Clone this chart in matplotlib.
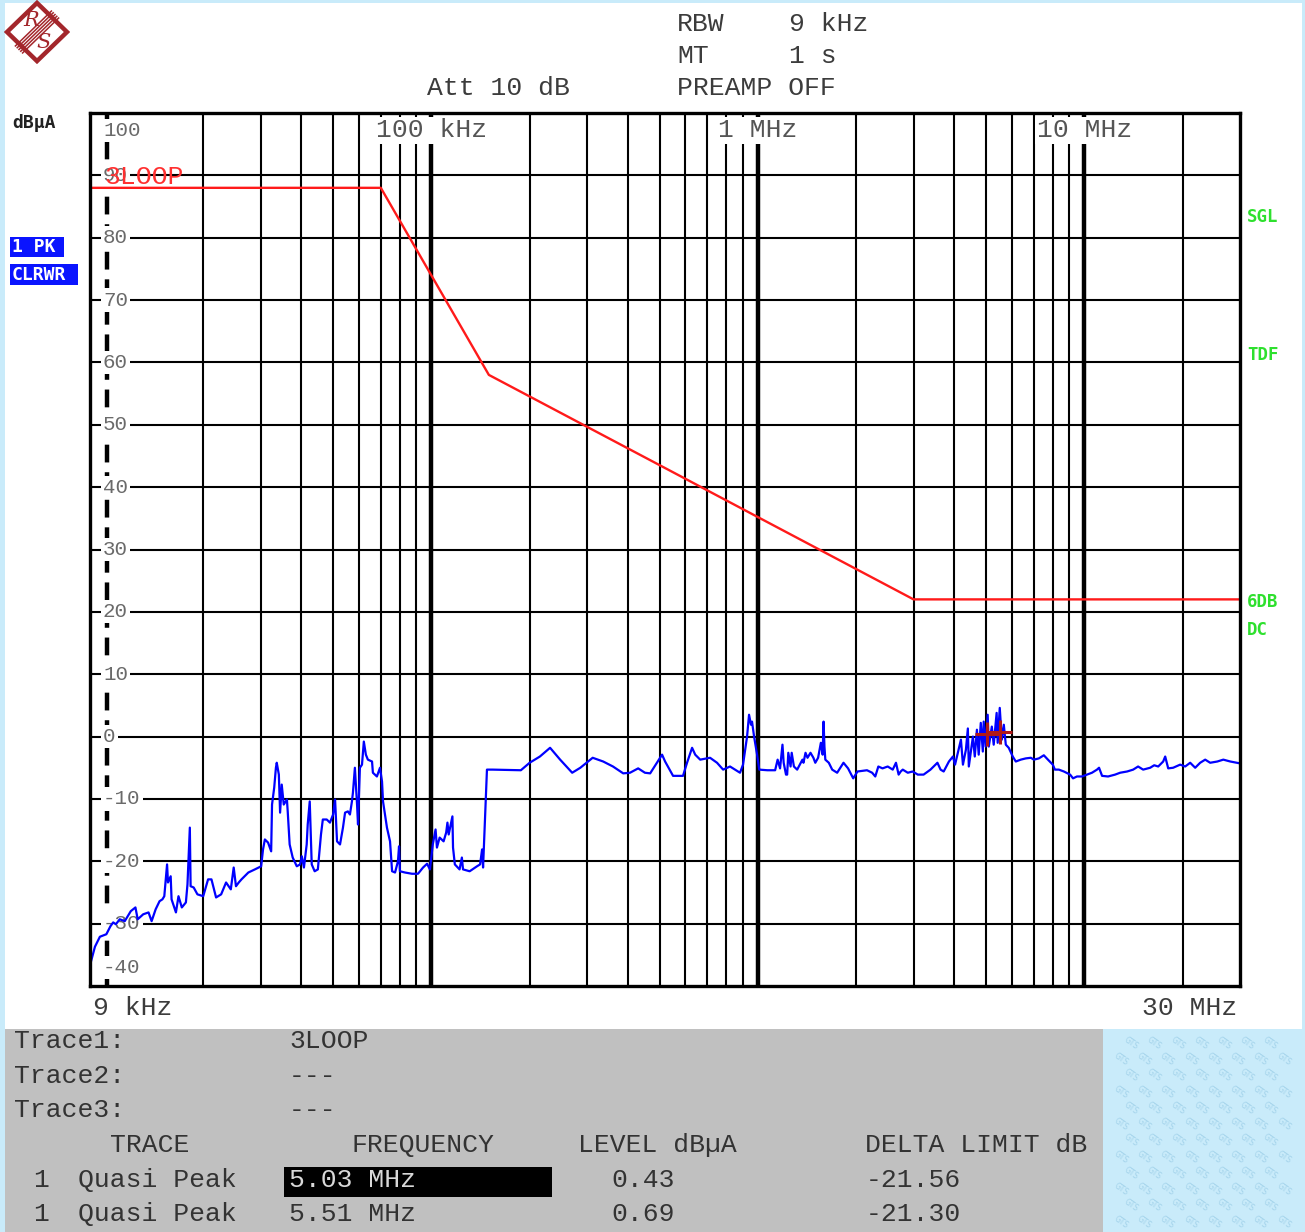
import matplotlib
matplotlib.use("Agg")
import matplotlib.pyplot as plt
from matplotlib.patches import Rectangle, Polygon
import numpy as np

# ---------------- data ----------------
# measured trace (peak detector), frequency in kHz, level in dBuA
trace_freq_khz = [
    9.06, 9.32, 9.65, 10.1, 10.4, 10.6, 10.8, 11.1, 11.5, 12.0, 12.4, 12.6, 13.1, 13.6,
    13.9, 14.3, 14.7, 15.0, 15.2, 15.5, 15.6, 15.9, 16.0, 16.5, 16.8, 17.2, 17.7, 17.9,
    18.2, 18.3, 18.7, 19.2, 20.0, 20.7, 21.2, 21.9, 22.7, 23.5, 24.3, 24.8, 25.2, 25.7,
    26.2, 27.5, 28.8, 30.1, 30.5, 30.9, 31.6, 32.3, 32.5, 33.0, 33.4, 33.6, 34.1, 34.4,
    34.8, 35.3, 36.1, 36.3, 36.8, 37.6, 38.7, 39.6, 40.1, 40.7, 41.5, 41.8, 42.4, 43.0,
    43.9, 44.9, 45.9, 46.5, 47.8, 48.9, 50.0, 50.7, 51.4, 52.5, 53.6, 54.4, 55.5, 56.3,
    57.1, 57.5, 58.3, 59.2, 59.6, 60.4, 61.3, 62.1, 63.0, 63.9, 65.8, 66.2, 68.1, 69.6,
    70.6, 71.1, 73.1, 74.7, 75.8, 77.4, 79.0, 79.6, 80.1, 83.0, 87.2, 91.0, 94.3, 97.0,
    99.0, 101, 103, 104, 106, 109, 111, 112, 113, 116, 116.5, 118, 122, 124, 125, 131,
    138, 141, 143, 144, 146, 148, 154, 188, 200, 215, 231, 248, 270, 286, 312, 336, 360,
    387, 406, 430, 451, 468, 491, 509, 520, 550, 590, 607, 629, 643, 666, 714, 750, 783,
    822, 852, 882, 901, 927, 940, 953, 960, 974, 995, 1010, 1070, 1130, 1150, 1170, 1190,
    1200, 1220, 1230, 1240, 1260, 1270, 1290, 1320, 1370, 1380, 1400, 1420, 1450, 1480,
    1500, 1530, 1560, 1580, 1590, 1600, 1610, 1650, 1690, 1750, 1830, 1890, 1960, 2020,
    2160, 2240, 2290, 2340, 2410, 2500, 2590, 2650, 2700, 2740, 2780, 2880, 2980, 3090,
    3220, 3380, 3550, 3630, 3710, 3850, 3960, 4020, 4100, 4190, 4250, 4340, 4400, 4430,
    4560, 4620, 4690, 4750, 4820, 4890, 4920, 4990, 5060, 5100, 5210, 5280, 5390, 5430,
    5510, 5590, 5670, 5750, 5870, 6040, 6170, 6390, 6620, 6860, 7010, 7260, 7520, 7740,
    8010, 8130, 8360, 8660, 9050, 9240, 9500, 9840, 10200, 10560, 10940, 11100, 11340,
    11830, 12430, 12880, 13530, 14120, 14620, 15150, 15920, 16380, 16850, 17450, 17700,
    18080, 18720, 19670, 20380, 21110, 21870, 22650, 23470, 24310, 25560, 26670, 28020,
    30000,
]
trace_level_dbua = [
    -36.1, -33.7, -32.1, -31.7, -30.4, -29.8, -30.1, -29.3, -29.6, -28.0, -27.4, -29.3, -28.5, -28.2,
    -29.6, -27.7, -26.4, -26.1, -25.6, -20.5, -23.4, -22.4, -26.1, -28.2, -25.6, -27.4, -26.6, -23.7,
    -14.6, -24.0, -24.2, -25.3, -25.6, -22.9, -22.9, -25.8, -25.3, -23.4, -24.5, -21.0, -24.0, -23.4,
    -22.9, -21.8, -21.3, -20.8, -18.1, -16.5, -17.0, -18.4, -10.9, -8.2, -5.0, -4.2, -6.1, -12.2,
    -7.7, -10.9, -10.1, -12.0, -17.3, -19.4, -20.8, -20.5, -19.2, -21.0, -17.3, -14.1, -10.4, -20.5,
    -21.6, -21.3, -15.7, -13.3, -13.3, -13.8, -12.5, -10.1, -16.8, -17.3, -14.6, -12.2, -12.0, -12.5,
    -10.4, -9.0, -5.0, -10.9, -14.1, -5.0, -4.5, -0.8, -2.9, -3.7, -4.0, -5.8, -6.4, -5.0,
    -7.2, -10.4, -14.6, -16.8, -21.6, -21.8, -20.0, -17.6, -21.6, -21.8, -22.0, -22.0, -21.0, -20.4,
    -21.3, -17.3, -14.9, -17.8, -16.2, -16.8, -15.4, -13.8, -15.7, -12.8, -17.8, -20.5, -21.3, -19.4, -21.3, -21.6,
    -20.8, -20.5, -18.1, -21.0, -13.3, -5.3, -5.3, -5.4, -4.2, -3.2, -1.8, -3.7, -5.8, -5.0, -3.4, -4.0, -4.8,
    -5.9, -5.8, -5.1, -5.8, -5.9, -4.2, -2.9, -4.0, -6.3, -6.3, -4.2, -1.8, -2.9, -3.7, -3.4, -4.2, -5.3,
    -4.8, -5.3, -5.8, -4.5, 0.0, 3.5, 1.9, 2.4, 0.0, -2.9, -5.3, -5.4, -5.4, -3.7, -5.1, -1.3,
    -4.2, -6.1, -6.1, -2.6, -4.8, -2.6, -4.8, -5.3, -3.7, -4.2, -2.6, -3.4, -2.6, -3.4,
    -4.2, -3.4, -1.0, -2.9, 2.4, -1.6, -3.7, -4.2, -5.3, -5.8, -4.2, -5.1, -6.7, -5.6,
    -5.4, -5.8, -6.4, -4.8, -5.1, -4.8, -5.3, -4.2, -6.1, -5.6, -5.3, -5.8, -5.6, -6.1,
    -6.1, -5.3, -4.2, -5.3, -5.6, -4.0, -3.2, -4.5, -2.6, -0.5, -4.5, -2.1, 1.3, -4.8,
    0.0, -3.2, 1.1, -2.9, 2.2, -2.4, 2.4, -1.6, 3.5, -1.6, 1.6, -1.3, 3.8, -1.0,
    4.6, -0.5, 1.9, -1.3, -1.8, -3.2, -4.0, -3.7, -3.5, -3.4, -3.7, -3.5, -3.0, -3.7,
    -4.5, -5.3, -5.3, -5.6, -6.1, -6.7, -6.4, -6.4, -6.1, -5.8, -5.3, -5.0, -6.3,
    -6.4, -6.1, -5.8, -5.6, -5.3, -4.8, -5.3, -5.0, -4.6, -4.8, -4.0, -3.2,
    -5.1, -5.0, -4.5, -4.8, -4.2, -5.0, -4.2, -3.7, -4.2, -4.0, -3.7, -4.0,
    -4.3,
]

# limit line "3LOOP"
limit_freq_khz = [9, 70, 150, 3000, 30000]
limit_level_dbua = [88, 88, 58, 22, 22]

# quasi-peak marker results
marker_freq_khz = [5030, 5510]
marker_level_dbua = [0.43, 0.69]
marker_freq_text = ["5.03 MHz", "5.51 MHz"]
marker_level_text = ["0.43", "0.69"]
marker_delta_text = ["-21.56", "-21.30"]

y_ticks = [100, 90, 80, 70, 60, 50, 40, 30, 20, 10, 0, -10, -20, -30, -40]
decade_labels = {100: "100 kHz", 1000: "1 MHz", 10000: "10 MHz"}

# ---------------- figure ----------------
W, H = 1305, 1232
MONO = ["Liberation Mono", "DejaVu Sans Mono"]
BOLDMONO = ["DejaVu Sans Mono"]


def fx(x):
    return x / W


def fy(y):
    return 1 - y / H


fig = plt.figure(figsize=(W / 100, H / 100), dpi=100, facecolor="#c9ebfa")

# white screen area and grey marker table
fig.add_artist(Rectangle((fx(5), fy(1029)), fx(1302) - fx(5), fy(3) - fy(1029),
                         transform=fig.transFigure, facecolor="white", edgecolor="none", zorder=0))
fig.add_artist(Rectangle((fx(5), fy(1232)), fx(1103) - fx(5), fy(1029) - fy(1232),
                         transform=fig.transFigure, facecolor="#c0c0c0", edgecolor="none", zorder=0))

# faint "GTS" watermark in the lower right corner (kept clear of the edges)
wm = fig.add_axes([fx(1103), fy(1232), fx(1305) - fx(1103), fy(1029) - fy(1232)])
wm.set_xlim(0, 1)
wm.set_ylim(0, 1)
wm.axis("off")
for i in range(8):
    for j in range(12):
        xw = 0.09 + i * 0.115 + (j % 2) * 0.05
        yw = 0.05 + j * 0.08
        if xw < 0.93 and yw < 0.96:
            wm.text(xw, yw, "GTS", fontsize=5.5, color="#a2d2ea", rotation=-35,
                    ha="center", va="center")

# ---------------- plot area ----------------
L, R, T, B = 90, 1240, 113, 986
ax = fig.add_axes([fx(L), fy(B), fx(R) - fx(L), fy(T) - fy(B)])
ax.set_xscale("log")
ax.set_xlim(9, 30000)
ax.set_ylim(-40, 100)
ax.set_facecolor("white")
ax.tick_params(which="both", left=False, bottom=False, labelleft=False, labelbottom=False)
ax.xaxis.set_minor_locator(matplotlib.ticker.NullLocator())
for s in ax.spines.values():
    s.set_linewidth(2.4)
    s.set_color("black")
    s.set_zorder(6)

# grid
for y in range(-30, 100, 10):
    ax.axhline(y, color="black", lw=1.5, zorder=1)
for dec in (10, 100, 1000, 10000):
    for k in range(2, 10):
        f = dec * k
        if f < 30000:
            ax.axvline(f, color="black", lw=1.5, zorder=1)
for f in (100, 1000, 10000):
    ax.axvline(f, color="black", lw=3.2, zorder=1)
ax.axvline(10.15, color="black", lw=3.2, dashes=(4.0, 2.2), zorder=1)

# level labels inside the diagram
for v in y_ticks:
    ypos = v
    if v == 100:
        ypos = 97.2
    elif v == -40:
        ypos = -37.0
    ax.text(0.0113, ypos, f"{v}", transform=ax.get_yaxis_transform(), ha="left",
            va="center", fontsize=15, family=MONO, color="#6a6a6a", zorder=3,
            bbox=dict(facecolor="white", edgecolor="none", pad=1.5))

# decade labels along the top edge
for f, s in decade_labels.items():
    ax.text(f, 97.2, s, ha="center", va="center", fontsize=19, family=MONO,
            color="#555555", zorder=3,
            bbox=dict(facecolor="white", edgecolor="none", pad=1.0))

# limit line and trace
ax.plot(limit_freq_khz, limit_level_dbua, color="#ff1a1a", lw=1.7, zorder=4)
ax.plot(trace_freq_khz, trace_level_dbua, color="#0000ff", lw=1.6, zorder=5)
ax.plot(marker_freq_khz, marker_level_dbua, linestyle="none", marker="+", ms=17, mew=2.2,
        color="#b01818", zorder=6)

ax.text(0.0125, 89.8, "3LOOP", transform=ax.get_yaxis_transform(), ha="left", va="center",
        fontsize=19, family=MONO, color="#ff3030", zorder=4)

# ---------------- header / side annotations ----------------
hdr = dict(fontsize=19, family=MONO, color="#3c3c3c", ha="left", va="center")
fig.text(fx(677), fy(24), "RBW", **hdr)
fig.text(fx(789), fy(24), "9 kHz", **hdr)
fig.text(fx(677), fy(56), "MT", **hdr)
fig.text(fx(789), fy(56), "1 s", **hdr)
fig.text(fx(677), fy(88), "PREAMP OFF", **hdr)
fig.text(fx(427), fy(88), "Att 10 dB", **hdr)

fig.text(fx(12), fy(123), "dB\u00b5A", fontsize=13, family=BOLDMONO, weight="bold",
         color="#222222", ha="left", va="center")

for (x0, x1, y0, y1, s) in [(10, 64, 237, 257, "1 PK"), (10, 78, 264, 285, "CLRWR")]:
    fig.add_artist(Rectangle((fx(x0), fy(y1)), fx(x1) - fx(x0), fy(y0) - fy(y1),
                             transform=fig.transFigure, facecolor="#0a14ff", edgecolor="none"))
    fig.text(fx(x0 + 2), fy((y0 + y1) / 2), s, fontsize=13, family=BOLDMONO, weight="bold",
             color="white", ha="left", va="center")

grn = dict(fontsize=12.5, family=BOLDMONO, weight="bold", color="#2ee02e", ha="left", va="center")
fig.text(fx(1247), fy(217), "SGL", **grn)
fig.text(fx(1247), fy(355), "TDF", **grn)
fig.text(fx(1247), fy(602), "6DB", **grn)
fig.text(fx(1247), fy(630), "DC", **grn)

fig.text(fx(93), fy(1008), "9 kHz", **hdr)
fig.text(fx(1237), fy(1008), "30 MHz", fontsize=19, family=MONO, color="#3c3c3c",
         ha="right", va="center")

# ---------------- marker table ----------------
tb = dict(fontsize=19, family=MONO, color="#333333", ha="left", va="center")
fig.text(fx(14), fy(1041), "Trace1:", **tb)
fig.text(fx(289), fy(1041), "3LOOP", **tb)
fig.text(fx(14), fy(1076), "Trace2:", **tb)
fig.text(fx(289), fy(1076), "---", **tb)
fig.text(fx(14), fy(1110), "Trace3:", **tb)
fig.text(fx(289), fy(1110), "---", **tb)
fig.text(fx(110), fy(1145), "TRACE", **tb)
fig.text(fx(352), fy(1145), "FREQUENCY", **tb)
fig.text(fx(578), fy(1145), "LEVEL dB\u00b5A", **tb)
fig.text(fx(865), fy(1145), "DELTA LIMIT dB", **tb)

fig.add_artist(Rectangle((fx(284), fy(1197)), fx(552) - fx(284), fy(1167) - fy(1197),
                         transform=fig.transFigure, facecolor="black", edgecolor="none"))
for i, yrow in enumerate([1180, 1214]):
    fig.text(fx(33), fy(yrow), "1", **tb)
    fig.text(fx(78), fy(yrow), "Quasi Peak", **tb)
    c = "#d8d8d8" if i == 0 else "#333333"
    fig.text(fx(289), fy(yrow), marker_freq_text[i], fontsize=19, family=MONO, color=c,
             ha="left", va="center")
    fig.text(fx(611), fy(yrow), marker_level_text[i], **tb)
    fig.text(fx(866), fy(yrow), marker_delta_text[i], **tb)

# ---------------- R&S logo ----------------
lg = fig.add_axes([fx(4), fy(64), fx(70) - fx(4), fy(0) - fy(64)])
lg.set_xlim(-1.1, 1.1)
lg.set_ylim(-1.1, 1.1)
lg.axis("off")
red = "#a3262b"
lg.add_patch(Polygon([(0, 1), (1, 0), (0, -1), (-1, 0)], closed=True, fill=False,
                     edgecolor=red, lw=3.2))
for off in np.linspace(-0.12, 0.12, 5):
    lg.plot([-0.6 + off, 0.6 + off], [-0.6 - off, 0.6 - off], color=red, lw=1.1)
lg.text(-0.2, 0.38, "R", fontsize=15, family="DejaVu Serif", style="italic", color=red,
        ha="center", va="center")
lg.text(0.22, -0.36, "S", fontsize=15, family="DejaVu Serif", style="italic", color=red,
        ha="center", va="center")

fig.savefig("out.png", dpi=100, facecolor=fig.get_facecolor())
